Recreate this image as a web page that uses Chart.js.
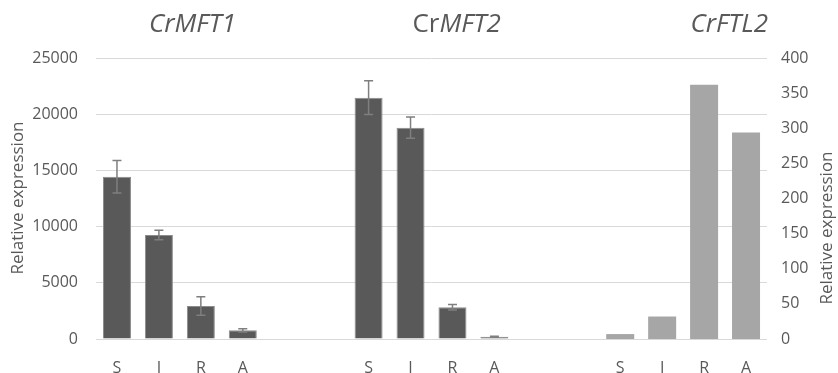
<!DOCTYPE html>
<html>
<head>
<meta charset="utf-8">
<script src="https://cdn.jsdelivr.net/npm/chart.js@4"></script>
<style>
  html, body { margin: 0; padding: 0; background: #fff; }
  #wrap { width: 838px; height: 373px; }
</style>
</head>
<body>
<div id="wrap"><canvas id="exprChart"></canvas></div>
<script>

// ==========================================
// Data
// ==========================================

const tissues = ["S", "I", "R", "A"];
const gapSlots = 2;

const mft1Values = [14440, 9250, 2940, 770];
const mft1Errors = [1450, 420, 830, 140];

const mft2Values = [21470, 18800, 2820, 200];
const mft2Errors = [1500, 950, 250, 50];

const ftl2Values = [7, 32, 362, 294];

const leftTicks = [0, 5000, 10000, 15000, 20000, 25000];
const rightTicks = [0, 50, 100, 150, 200, 250, 300, 350, 400];

const yTitle = "Relative expression";


// ==========================================
// Build category slots
// ==========================================

const gap = new Array(gapSlots).fill("");
const gapNull = new Array(gapSlots).fill(null);
const blockNull = new Array(tissues.length).fill(null);

const labels = [...tissues, ...gap, ...tissues, ...gap, ...tissues];

const mftData = [...mft1Values, ...gapNull, ...mft2Values, ...gapNull, ...blockNull];
const mftErr = [...mft1Errors, ...gapNull, ...mft2Errors, ...gapNull, ...blockNull];
const ftlData = [...blockNull, ...gapNull, ...blockNull, ...gapNull, ...ftl2Values];

const textColor = "#595959";
const fontFamily = "'Open Sans', 'Noto Sans', sans-serif";


// ==========================================
// Plugins
// ==========================================

const errorBars = {
    id: "errorBars",
    afterDatasetsDraw(chart) {
        const ctx = chart.ctx;
        const meta = chart.getDatasetMeta(0);
        const y = chart.scales.y;
        ctx.save();
        ctx.strokeStyle = "#7f7f7f";
        ctx.lineWidth = 1.5;
        meta.data.forEach((bar, i) => {
            const v = mftData[i];
            const e = mftErr[i];
            if (v == null || e == null) return;
            const top = y.getPixelForValue(v + e);
            const bot = y.getPixelForValue(v - e);
            const x = bar.x;
            ctx.beginPath();
            ctx.moveTo(x, top); ctx.lineTo(x, bot);
            ctx.moveTo(x - 4.5, top); ctx.lineTo(x + 4.5, top);
            ctx.moveTo(x - 4.5, bot); ctx.lineTo(x + 4.5, bot);
            ctx.stroke();
        });
        ctx.restore();
    }
};

// gene titles: [text parts], each part [string, italic]
const geneTitles = [
    { slot: 1.8, parts: [["CrMFT1", true]] },
    { slot: 8.1, parts: [["Cr", false], ["MFT2", true]] },
    { slot: 14.6, parts: [["CrFTL2", true]] }
];

const titlesPlugin = {
    id: "titlesPlugin",
    afterDraw(chart) {
        const ctx = chart.ctx;
        const x = chart.scales.x;
        const slotW = x.getPixelForValue(1) - x.getPixelForValue(0);
        ctx.save();
        ctx.fillStyle = textColor;
        ctx.textBaseline = "middle";
        ctx.textAlign = "left";

        geneTitles.forEach(t => {
            const cx = x.getPixelForValue(0) + t.slot * slotW;
            let total = 0;
            t.parts.forEach(p => {
                ctx.font = (p[1] ? "italic " : "") + "26px " + fontFamily;
                total += ctx.measureText(p[0]).width;
            });
            let px = cx - total / 2;
            t.parts.forEach(p => {
                ctx.font = (p[1] ? "italic " : "") + "26px " + fontFamily;
                ctx.fillText(p[0], px, 25);
                px += ctx.measureText(p[0]).width;
            });
        });

        // axis titles
        ctx.font = "17px " + fontFamily;
        ctx.textAlign = "center";

        ctx.save();
        ctx.translate(18, 198);
        ctx.rotate(-Math.PI / 2);
        ctx.fillText(yTitle, 0, 0);
        ctx.restore();

        ctx.save();
        ctx.translate(827, 228);
        ctx.rotate(-Math.PI / 2);
        ctx.fillText(yTitle, 0, 0);
        ctx.restore();

        ctx.restore();
    }
};


// ==========================================
// Chart
// ==========================================

const ctx = document.getElementById("exprChart").getContext("2d");

new Chart(ctx, {

    type: "bar",

    data: {
        labels: labels,
        datasets: [
            {
                data: mftData,
                yAxisID: "y",
                backgroundColor: "#595959",
                borderColor: "#8c8c8c",
                borderWidth: 1,
                grouped: false,
                categoryPercentage: 1,
                barPercentage: 0.668
            },
            {
                data: ftlData,
                yAxisID: "y2",
                backgroundColor: "#a6a6a6",
                borderWidth: 0,
                grouped: false,
                categoryPercentage: 1,
                barPercentage: 0.668
            }
        ]
    },

    options: {
        responsive: true,
        maintainAspectRatio: false,
        animation: false,
        layout: {
            padding: { top: 58, left: 0, right: 0, bottom: 0 }
        },
        plugins: {
            legend: { display: false },
            tooltip: { enabled: false }
        },
        scales: {
            x: {
                grid: { display: false },
                border: { display: false },
                ticks: {
                    color: textColor,
                    font: { family: fontFamily, size: 16 },
                    padding: 12,
                    maxRotation: 0,
                    autoSkip: false
                },
                afterFit(scale) { scale.height = 34; }
            },
            y: {
                position: "left",
                min: 0,
                max: 25000,
                afterBuildTicks(scale) {
                    scale.ticks = leftTicks.map(v => ({ value: v }));
                },
                grid: { color: "#d9d9d9", lineWidth: 1, drawTicks: false },
                border: { display: false },
                ticks: {
                    color: textColor,
                    font: { family: fontFamily, size: 16 },
                    padding: 18,
                    callback: v => String(v)
                },
                afterFit(scale) { scale.width = 96; }
            },
            y2: {
                position: "right",
                min: 0,
                max: 400,
                afterBuildTicks(scale) {
                    scale.ticks = rightTicks.map(v => ({ value: v }));
                },
                grid: { display: false, drawTicks: false },
                border: { display: false },
                ticks: {
                    color: textColor,
                    font: { family: fontFamily, size: 16 },
                    padding: 14,
                    callback: v => String(v)
                },
                afterFit(scale) { scale.width = 71; }
            }
        }
    },

    plugins: [errorBars, titlesPlugin]

});

</script>
</body>
</html>
